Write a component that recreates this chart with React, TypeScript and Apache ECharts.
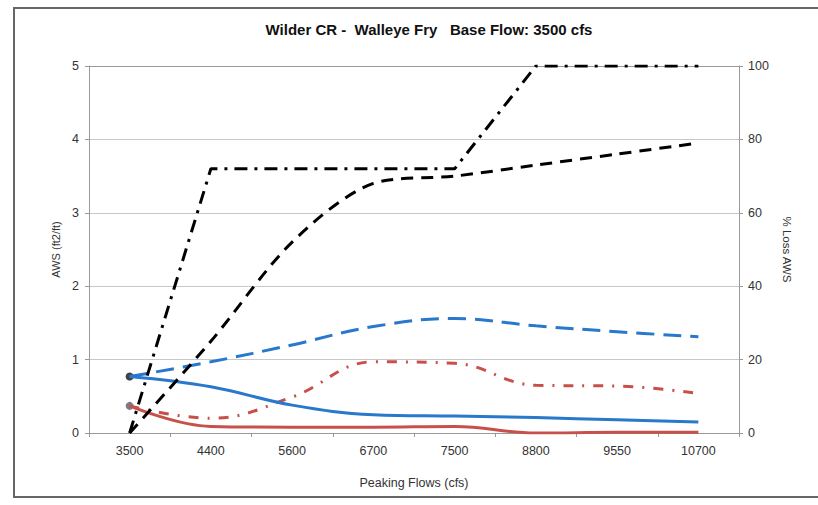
import React, { useEffect, useRef } from "react";
import * as echarts from "echarts";

const categories = ["3500", "4400", "5600", "6700", "7500", "8800", "9550", "10700"];
const awsBlueSolid = [0.77, 0.63, 0.38, 0.25, 0.23, 0.21, 0.18, 0.15];
const awsRedSolid = [0.37, 0.09, 0.08, 0.08, 0.09, 0.0, 0.01, 0.01];
const awsBlueDashed = [0.77, 0.97, 1.2, 1.45, 1.56, 1.46, 1.38, 1.31];
const awsRedDashDot = [0.37, 0.2, 0.49, 0.97, 0.95, 0.65, 0.64, 0.54];
const lossDashed = [0, 25, 52, 68, 70, 73, 76, 79];
const lossDashDot = [0, 72, 72, 72, 72, 100, 100, 100];

const titleText = "Wilder CR -  Walleye Fry   Base Flow: 3500 cfs";
const xName = "Peaking Flows (cfs)";
const yLeftName = "AWS (ft2/ft)";
const yRightName = "% Loss AWS";

const BLUE = "#2878cc";
const RED = "#c8504a";
const FONT = "Liberation Sans, Arial, sans-serif";

export default function App() {
  const ref = useRef<HTMLDivElement>(null);
  useEffect(() => {
    if (!ref.current) return;
    const chart = echarts.init(ref.current, undefined, { renderer: "svg" });
    chart.setOption({
      animation: false,
      backgroundColor: "#ffffff",
      textStyle: { fontFamily: FONT },
      title: {
        text: titleText,
        left: 424,
        top: 17,
        textAlign: "center",
        textStyle: { fontSize: 15, fontWeight: "bold", color: "#111", fontFamily: FONT },
      },
      graphic: [
        {
          type: "rect",
          shape: { x: 14, y: 8, width: 820, height: 489 },
          style: { fill: "none", stroke: "#666", lineWidth: 2 },
          silent: true,
        },
      ],
      grid: { left: 89, right: 79, top: 66, bottom: 72 },
      xAxis: {
        type: "category",
        data: categories,
        boundaryGap: true,
        name: xName,
        nameLocation: "middle",
        nameGap: 43,
        nameTextStyle: { fontSize: 12.5, color: "#333", fontFamily: FONT },
        axisLine: { lineStyle: { color: "#999", width: 1 } },
        axisTick: { show: true, length: 4, lineStyle: { color: "#999" } },
        axisLabel: { fontSize: 12.5, color: "#333", margin: 11, fontFamily: FONT },
        splitLine: { show: false },
      },
      yAxis: [
        {
          type: "value",
          min: 0,
          max: 5,
          interval: 1,
          name: yLeftName,
          nameLocation: "middle",
          nameGap: 27,
          nameRotate: 90,
          nameTextStyle: { fontSize: 11, color: "#333", fontFamily: FONT },
          axisLine: { show: true, lineStyle: { color: "#999" } },
          axisTick: { show: true, length: 4, lineStyle: { color: "#999" } },
          axisLabel: { fontSize: 12.5, color: "#333", margin: 10, fontFamily: FONT },
          splitLine: {
            show: true,
            lineStyle: {
              color: ["#c8c8c8", "#c8c8c8", "#c8c8c8", "#c8c8c8", "#c8c8c8", "#9a9a9a"],
              width: 1.2,
            },
          },
        },
        {
          type: "value",
          min: 0,
          max: 100,
          interval: 20,
          name: yRightName,
          nameLocation: "middle",
          nameGap: 42,
          nameRotate: -90,
          nameTextStyle: { fontSize: 11.5, color: "#333", fontFamily: FONT },
          axisLine: { show: true, lineStyle: { color: "#999" } },
          axisTick: { show: true, length: 4, lineStyle: { color: "#999" } },
          axisLabel: { fontSize: 12.5, color: "#333", margin: 9, fontFamily: FONT },
          splitLine: { show: false },
        },
      ],
      series: [
        {
          type: "line",
          name: "AWS dashed",
          data: awsBlueDashed,
          yAxisIndex: 0,
          smooth: 0.4,
          symbol: "none",
          lineStyle: { color: BLUE, width: 3, type: [18, 9] },
        },
        {
          type: "line",
          name: "AWS dash-dot",
          data: awsRedDashDot,
          yAxisIndex: 0,
          smooth: 0.4,
          symbol: "none",
          lineStyle: { color: RED, width: 3, type: [10, 9, 2, 9] },
        },
        {
          type: "line",
          name: "AWS blue",
          data: awsBlueSolid,
          yAxisIndex: 0,
          smooth: 0.4,
          symbol: "none",
          lineStyle: { color: BLUE, width: 3 },
        },
        {
          type: "line",
          name: "AWS red",
          data: awsRedSolid,
          yAxisIndex: 0,
          smooth: 0.4,
          symbol: "none",
          lineStyle: { color: RED, width: 3 },
        },
        {
          type: "line",
          name: "% loss dashed",
          data: lossDashed,
          yAxisIndex: 1,
          smooth: 0.3,
          symbol: "none",
          lineStyle: { color: "#000", width: 3, type: [12, 8] },
        },
        {
          type: "line",
          name: "% loss dash-dot",
          data: lossDashDot,
          yAxisIndex: 1,
          smooth: false,
          symbol: "none",
          lineStyle: { color: "#000", width: 3, type: [13, 7, 3, 7] },
        },
        {
          type: "scatter",
          name: "start blue",
          yAxisIndex: 0,
          data: [[categories[0], awsBlueSolid[0]]],
          symbol: "circle",
          symbolSize: 8,
          itemStyle: { color: "#111" },
        },
        {
          type: "scatter",
          name: "start red",
          yAxisIndex: 0,
          data: [[categories[0], awsRedSolid[0]]],
          symbol: "circle",
          symbolSize: 8,
          itemStyle: { color: "#5a5a70" },
        },
      ],
    });
    return () => chart.dispose();
  }, []);
  return (
    <div
      ref={ref}
      style={{ position: "fixed", left: 0, top: 0, width: 818, height: 505, background: "#fff" }}
    />
  );
}
